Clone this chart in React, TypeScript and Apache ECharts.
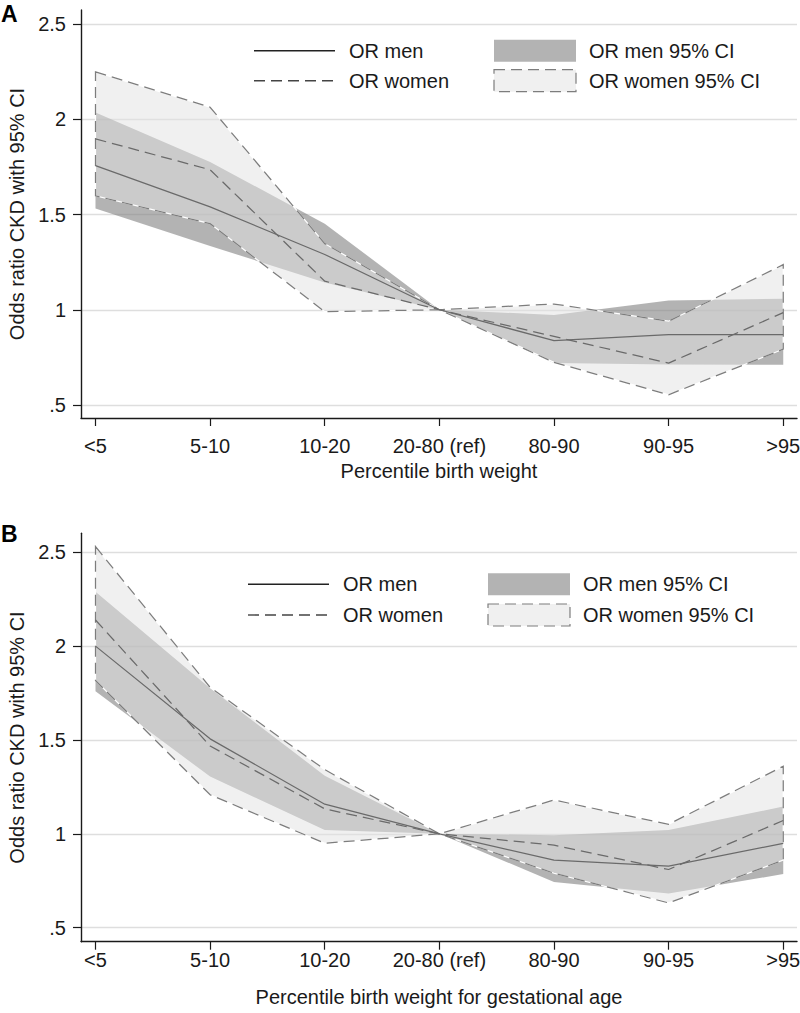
import React, { useEffect, useRef } from "react";
import * as echarts from "echarts";

const categories = ["<5", "5-10", "10-20", "20-80 (ref)", "80-90", "90-95", ">95"];
const catIdx = [0, 1, 2, 3, 4, 5, 6];
const yTicks = [0.5, 1, 1.5, 2, 2.5];

// Panel A: Percentile birth weight
const aMenOR = [1.757, 1.54, 1.29, 1, 0.838, 0.869, 0.87];
const aMenLo = [1.531, 1.335, 1.143, 1, 0.72, 0.713, 0.711];
const aMenHi = [2.035, 1.776, 1.452, 1, 0.973, 1.049, 1.058];
const aWomenOR = [1.897, 1.735, 1.15, 1, 0.86, 0.72, 0.985];
const aWomenLo = [1.598, 1.452, 0.99, 1, 0.724, 0.554, 0.793];
const aWomenHi = [2.249, 2.063, 1.347, 1, 1.03, 0.94, 1.237];

// Panel B: Percentile birth weight for gestational age
const bMenOR = [2.0, 1.506, 1.158, 1, 0.86, 0.828, 0.949];
const bMenLo = [1.759, 1.305, 1.021, 1, 0.744, 0.682, 0.786];
const bMenHi = [2.29, 1.775, 1.31, 1, 0.993, 1.02, 1.145];
const bWomenOR = [2.139, 1.468, 1.133, 1, 0.94, 0.81, 1.071];
const bWomenLo = [1.817, 1.208, 0.95, 1, 0.79, 0.632, 0.86];
const bWomenHi = [2.53, 1.78, 1.342, 1, 1.18, 1.051, 1.36];

const FONT = '"Liberation Sans", Arial, Helvetica, sans-serif';
const INK = "#1a1a1a";
const LINE = "#6a6a6a";
const DASH = [11, 6];

function band(lo: number[], hi: number[], gi: number, fill: string, z: number, dashed: boolean) {
  return {
    type: "custom",
    xAxisIndex: gi,
    yAxisIndex: gi,
    data: [[0, 1]],
    z,
    silent: true,
    clip: false,
    renderItem: (_p: any, api: any) => {
      const pts = hi
        .map((v, i) => api.coord([i, v]))
        .concat(lo.map((v, i) => api.coord([i, v])).reverse());
      const children: any[] = [
        {
          type: "polygon",
          shape: { points: pts },
          style: dashed
            ? { fill, stroke: "#ffffff", lineWidth: 1.2 }
            : { fill, stroke: null },
        },
      ];
      if (dashed) {
        children.push({
          type: "polygon",
          shape: { points: pts },
          style: { fill: null, stroke: "#7d7d7d", lineWidth: 1.25, lineDash: DASH },
        });
      }
      return { type: "group", children };
    },
  };
}

function lineSeries(vals: number[], gi: number, dashed: boolean, z: number) {
  return {
    type: "line",
    xAxisIndex: gi,
    yAxisIndex: gi,
    data: vals.map((v, i) => [i, v]),
    symbol: "none",
    silent: true,
    z,
    lineStyle: { color: LINE, width: 1.25, type: dashed ? DASH : "solid" },
  };
}

function xAxis(gi: number, name: string, margin: number, nameGap: number) {
  return {
    type: "value",
    gridIndex: gi,
    min: -0.1265,
    max: 6.12,
    axisLine: { show: true, onZero: false, lineStyle: { color: INK, width: 1.4 } },
    axisTick: { show: true, length: 8, customValues: catIdx, lineStyle: { color: INK, width: 1.2 } },
    axisLabel: {
      customValues: catIdx,
      formatter: (v: number) => categories[Math.round(v)],
      fontSize: 20,
      fontFamily: FONT,
      color: INK,
      margin,
    },
    splitLine: { show: false },
    name,
    nameLocation: "middle",
    nameGap,
    nameTextStyle: { fontSize: 20, fontFamily: FONT, color: INK },
  };
}

function yAxis(gi: number, min: number, max: number) {
  return {
    type: "value",
    gridIndex: gi,
    min,
    max,
    axisLine: { show: true, onZero: false, lineStyle: { color: INK, width: 1.4 } },
    axisTick: { show: true, length: 8, customValues: yTicks, lineStyle: { color: INK, width: 1.2 } },
    axisLabel: {
      customValues: yTicks,
      formatter: (v: number) => (v === 0.5 ? ".5" : String(v)),
      fontSize: 20,
      fontFamily: FONT,
      color: INK,
      margin: 15,
    },
    splitLine: { show: true, lineStyle: { color: "#dedede", width: 1.4 } },
    name: "Odds ratio CKD with 95% CI",
    nameLocation: "middle",
    nameGap: 49,
    nameTextStyle: { fontSize: 20, fontFamily: FONT, color: INK },
  };
}

function legend(x0: number, yA: number, yB: number, rx: number) {
  const txt = (text: string, x: number, y: number) => ({
    type: "text",
    x,
    y,
    style: { text, fill: INK, font: `20px ${FONT}`, verticalAlign: "middle", align: "left" },
  });
  return [
    { type: "line", shape: { x1: x0, y1: yA, x2: x0 + 81, y2: yA }, style: { stroke: "#222", lineWidth: 1.4 } },
    { type: "line", shape: { x1: x0, y1: yB, x2: x0 + 81, y2: yB }, style: { stroke: "#444", lineWidth: 1.4, lineDash: DASH } },
    txt("OR men", x0 + 95, yA),
    txt("OR women", x0 + 95, yB),
    { type: "rect", shape: { x: rx, y: yA - 11, width: 82, height: 22 }, style: { fill: "#b3b3b3" } },
    { type: "rect", shape: { x: rx, y: yB - 11, width: 82, height: 22 }, style: { fill: "#f0f0f0", stroke: "#7d7d7d", lineWidth: 1.2, lineDash: DASH } },
    txt("OR men 95% CI", rx + 95, yA),
    txt("OR women 95% CI", rx + 95, yB),
  ];
}

export default function App() {
  const ref = useRef<HTMLDivElement>(null);
  useEffect(() => {
    if (!ref.current) return;
    const chart = echarts.init(ref.current, null, { renderer: "svg" });
    const menFill = "rgba(128,128,128,0.6)";
    const womenFill = "rgba(226,226,226,0.51)";
    chart.setOption({
      animation: false,
      backgroundColor: "#ffffff",
      textStyle: { fontFamily: FONT },
      grid: [
        { left: 81, right: 3, top: 10, height: 408, containLabel: false, outerBoundsMode: "none" },
        { left: 81, right: 3, top: 533.3, height: 408.4, containLabel: false, outerBoundsMode: "none" },
      ],
      xAxis: [
        xAxis(0, "Percentile birth weight", 18, 43),
        xAxis(1, "Percentile birth weight for gestational age", 8, 45),
      ],
      yAxis: [yAxis(0, 0.4318, 2.5735), yAxis(1, 0.4254, 2.601)],
      series: [
        band(aMenLo, aMenHi, 0, menFill, 1, false),
        band(aWomenLo, aWomenHi, 0, womenFill, 2, true),
        lineSeries(aMenOR, 0, false, 3),
        lineSeries(aWomenOR, 0, true, 4),
        band(bMenLo, bMenHi, 1, menFill, 1, false),
        band(bWomenLo, bWomenHi, 1, womenFill, 2, true),
        lineSeries(bMenOR, 1, false, 3),
        lineSeries(bWomenOR, 1, true, 4),
      ],
      graphic: [
        { type: "text", x: 1, y: 2, style: { text: "A", fill: "#000", font: `bold 23px ${FONT}`, verticalAlign: "top" } },
        { type: "text", x: 1, y: 522, style: { text: "B", fill: "#000", font: `bold 23px ${FONT}`, verticalAlign: "top" } },
        ...legend(254, 50.7, 80.7, 494),
        ...legend(248, 584.3, 615, 488),
      ],
    });
    return () => chart.dispose();
  }, []);
  return (
    <div
      ref={ref}
      style={{ position: "absolute", left: 0, top: 0, width: 800, height: 1013, background: "#fff" }}
    />
  );
}
